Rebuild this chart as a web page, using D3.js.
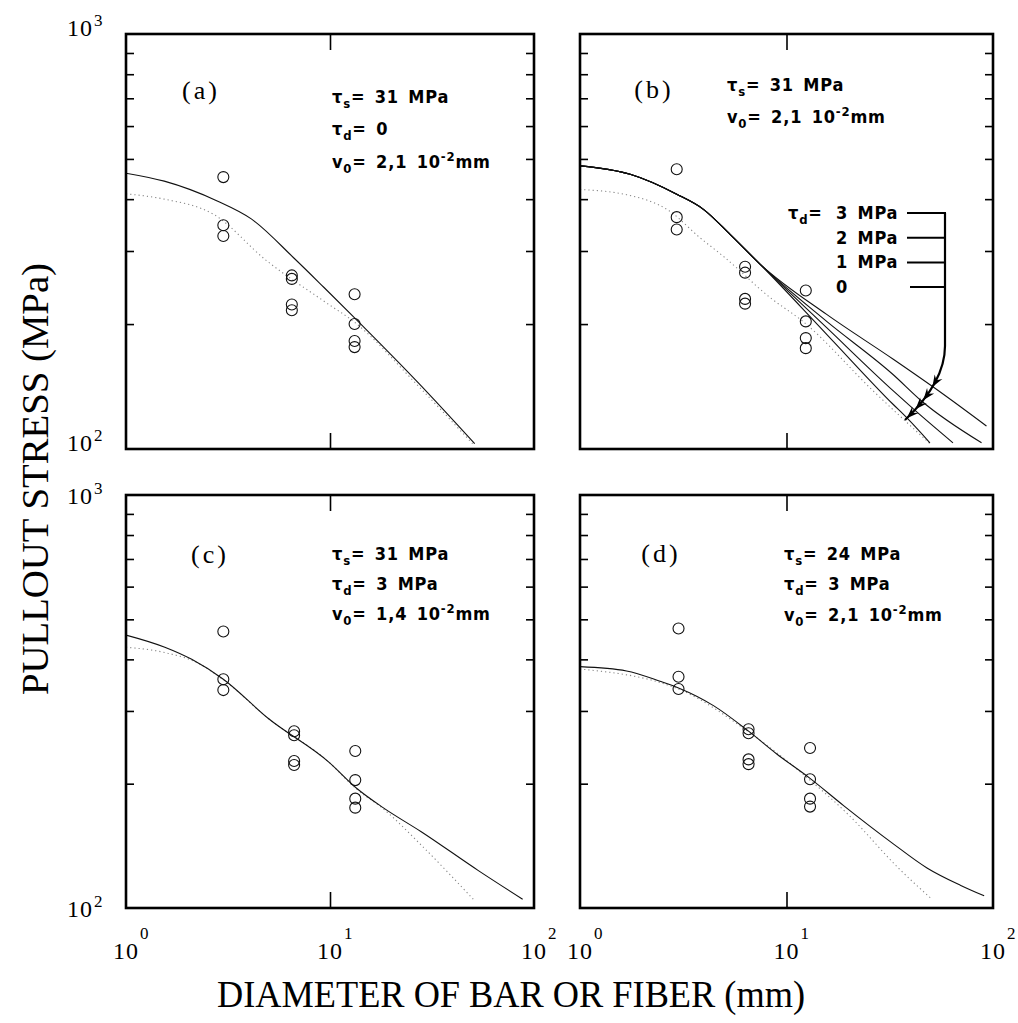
<!DOCTYPE html>
<html>
<head>
<meta charset="utf-8">
<script src="https://cdn.jsdelivr.net/npm/d3@7"></script>
<style>
  body { margin: 0; background: #fff; }
  svg { display: block; }
  .ann { font-family: "Liberation Sans Narrow", "DejaVu Sans Condensed", sans-serif; font-weight: bold; font-size: 18px; letter-spacing: 0.8px; word-spacing: 3px; }
  .tag { font-family: "Liberation Serif", serif; font-size: 26px; letter-spacing: 3px; }
  .num { font-family: "Liberation Serif", serif; font-size: 24px; letter-spacing: 1px; }
  .sup { font-family: "Liberation Serif", serif; font-size: 17px; }
  .title { font-family: "Liberation Serif", serif; font-size: 37px; }
</style>
</head>
<body>
<svg id="fig" width="1018" height="1023"></svg>
<script>
// ---- data: [diameter (mm), pullout stress (MPa)] ----
const yMinorTicks = [200, 300, 400, 500, 600, 700, 800, 900];
const xMajorTicks = [1, 10, 100];

// (a)
const pointsA = [[3,452],[3,346],[3,326],[6.5,262],[6.5,257],[6.5,223],[6.5,216],[13.2,236],[13.2,200],[13.2,182],[13.2,176]];
const solidA  = [[1,462],[1.54,442],[2.8,396],[4.13,358],[6.63,289],[9.35,245],[13.2,207],[27.4,143.5],[51.2,103]];
const dottedA = [[1,412],[1.54,400],[2.68,368],[4.9,284],[9.35,227],[13.2,202],[27.4,141],[50,103]];

// (b)
const pointsB = [[2.94,472],[2.94,362],[2.94,338],[6.3,275],[6.3,266],[6.3,230],[6.3,224],[12.4,241],[12.4,203],[12.4,185],[12.4,175]];
const commonB = [[1,481],[1.75,459],[2.94,411],[3.96,378],[5.33,329],[7.44,279]];
const tau3B = [[15.65,211],[32.9,164.5],[57.5,135.5],[93,113.6]];
const tau2B = [[15.65,203],[32.9,151],[45.1,130.5],[88,103.5]];
const tau1B = [[15.65,196],[32.9,138],[41.4,124.6],[64,103.5]];
const tau0B = [[15.65,189],[32.9,128],[38.2,119],[49.5,103.5]];
const dottedB = [[1,422],[1.68,410],[2.7,375],[3.81,323],[5,290],[8.3,232],[12,203],[26.3,138],[49.5,103]];
const legendB = ["3 MPa", "2 MPa", "1 MPa", "0"];

// (c)
const pointsC = [[3,467],[3,358],[3,337],[6.67,268],[6.67,262],[6.67,227],[6.67,222],[13.3,240],[13.3,204],[13.3,184],[13.3,175]];
const solidC  = [[1,458],[1.55,428],[2.1,400],[3,358],[4.97,288],[9.93,225],[13.5,195],[18.2,175],[28,153],[53.6,123],[88,105]];
const dottedC = [[1,428],[1.6,414],[2.2,394],[3,357],[4.97,288],[9.93,225],[13.5,194],[18.2,174],[28,142],[51.3,104]];

// (d)
const pointsD = [[3,475],[3,363],[3,339],[6.55,271],[6.55,265],[6.55,229],[6.55,223],[13,244],[13,205],[13,184],[13,176]];
const solidD  = [[1,384],[1.68,375],[2.44,354],[3,341],[4.43,309],[6.55,268],[8.97,236],[13,206],[18.9,177],[32.9,143],[47.9,125],[69.8,113.4],[90.6,107]];
const dottedD = [[1,379],[3,339],[6.55,267],[13,204],[20,168],[34.8,125],[50.6,105]];

const svg = d3.select('#fig');

function rich(g, x, y, parts, cls) {
    const t = g.append('text').attr('x', x).attr('y', y).attr('class', cls);
    let cur = 0;
    parts.forEach(([s, k]) => {
        const shift = k === 'sub' ? 5 : k === 'sup' ? -7 : 0;
        t.append('tspan')
            .attr('dy', shift - cur)
            .attr('font-size', k ? '13px' : null)
            .text(s);
        cur = shift;
    });
    return t;
}

function drawPanel(cfg) {
    const w = cfg.w, h = cfg.h;
    const g = svg.append('g').attr('transform', `translate(${cfg.x}, ${cfg.y})`);

    const xscale = d3.scaleLog().domain([1, 100]).range([0, w]);
    const yscale = d3.scaleLog().domain([100, 1000]).range([h, 0]);

    g.append('clipPath').attr('id', 'clip-' + cfg.id)
        .append('rect').attr('width', w).attr('height', h);

    // inward ticks on all four sides
    const tickGroups = [
        g.append('g').call(d3.axisLeft(yscale).tickValues(yMinorTicks).tickSize(-8).tickFormat('')),
        g.append('g').attr('transform', `translate(${w}, 0)`)
            .call(d3.axisRight(yscale).tickValues(yMinorTicks).tickSize(-8).tickFormat('')),
        g.append('g').attr('transform', `translate(0, ${h})`)
            .call(d3.axisBottom(xscale).tickValues([10]).tickSize(-16).tickFormat('')),
        g.append('g').call(d3.axisTop(xscale).tickValues([10]).tickSize(-16).tickFormat(''))
    ];
    tickGroups.forEach(a => {
        a.select('.domain').remove();
        a.selectAll('line').attr('stroke', '#000').attr('stroke-width', 1.6);
    });

    const plot = g.append('g').attr('clip-path', `url(#clip-${cfg.id})`);
    const line = d3.line()
        .x(d => xscale(d[0]))
        .y(d => yscale(d[1]))
        .curve(d3.curveMonotoneX);

    cfg.dotted.forEach(s => {
        plot.append('path').datum(s)
            .attr('d', line).attr('fill', 'none')
            .attr('stroke', '#888').attr('stroke-width', 1.1)
            .attr('stroke-dasharray', '1.2,3');
    });
    cfg.solid.forEach(s => {
        plot.append('path').datum(s)
            .attr('d', line).attr('fill', 'none')
            .attr('stroke', '#111').attr('stroke-width', 1.1);
    });

    plot.selectAll('.pt')
        .data(cfg.points)
        .join('circle')
        .attr('class', 'pt')
        .attr('cx', d => xscale(d[0]))
        .attr('cy', d => yscale(d[1]))
        .attr('r', 5.5)
        .attr('fill', 'none')
        .attr('stroke', '#111')
        .attr('stroke-width', 1.1);

    g.append('rect')
        .attr('width', w).attr('height', h)
        .attr('fill', 'none').attr('stroke', '#000').attr('stroke-width', 2.6);

    // tick labels 10^n
    if (cfg.yLabels) {
        [100, 1000].forEach(v => {
            const yy = yscale(v) + cfg.yLabelDy;
            g.append('text').attr('class', 'num').attr('x', -33).attr('y', yy)
                .attr('text-anchor', 'end').text('10');
            g.append('text').attr('class', 'sup').attr('x', -32).attr('y', yy - 10)
                .text(Math.round(Math.log10(v)));
        });
    }
    if (cfg.xLabels) {
        xMajorTicks.forEach(d => {
            const xx = xscale(d);
            g.append('text').attr('class', 'num').attr('x', xx).attr('y', h + 51)
                .attr('text-anchor', 'middle').text('10');
            g.append('text').attr('class', 'sup').attr('x', xx + 14).attr('y', h + 31)
                .text(Math.round(Math.log10(d)));
        });
    }

    g.append('text').attr('class', 'tag')
        .attr('x', cfg.tag[1]).attr('y', cfg.tag[2])
        .attr('text-anchor', 'middle').text(cfg.tag[0]);

    cfg.notes.forEach(n => rich(g, n.x, n.y, n.parts, 'ann'));

    return { g, xscale, yscale };
}

drawPanel({
    id: 'a', x: 126, y: 34, w: 408, h: 415,
    points: pointsA, solid: [solidA], dotted: [dottedA],
    yLabels: true, yLabelDy: 2, xLabels: false,
    tag: ['(a)', 75, 65],
    notes: [
        { x: 206, y: 69, parts: [['τ'], ['s', 'sub'], ['= 31 MPa']] },
        { x: 206, y: 101, parts: [['τ'], ['d', 'sub'], ['= 0']] },
        { x: 206, y: 134, parts: [['v'], ['0', 'sub'], ['= 2,1 10'], ['-2', 'sup'], ['mm']] }
    ]
});

const pb = drawPanel({
    id: 'b', x: 580, y: 34, w: 413, h: 415,
    points: pointsB,
    solid: [commonB.concat(tau3B), commonB.concat(tau2B), commonB.concat(tau1B), commonB.concat(tau0B)],
    dotted: [dottedB],
    yLabels: false, xLabels: false,
    tag: ['(b)', 74, 64],
    notes: [
        { x: 147, y: 57, parts: [['τ'], ['s', 'sub'], ['= 31 MPa']] },
        { x: 147, y: 89, parts: [['v'], ['0', 'sub'], ['= 2,1 10'], ['-2', 'sup'], ['mm']] },
        { x: 208, y: 185, parts: [['τ'], ['d', 'sub'], ['=']] }
    ]
});

// legend of panel (b): labels, leader lines and the curved bracket with arrows
legendB.forEach((lab, i) => {
    const yy = 185 + i * 24.7;
    pb.g.append('text').attr('class', 'ann').attr('x', 256).attr('y', yy).text(lab);
    pb.g.append('line')
        .attr('x1', i === 3 ? 330 : 327).attr('x2', 366)
        .attr('y1', yy - 6).attr('y2', yy - 6)
        .attr('stroke', '#000').attr('stroke-width', 2);
});
const bracket = pb.g.append('path')
    .attr('d', 'M365,179 V312 Q365,348 325,386')
    .attr('fill', 'none').attr('stroke', '#000').attr('stroke-width', 2.2);
const bnode = bracket.node();
const blen = bnode.getTotalLength();
// arrows where the bracket meets the four curves
[353, 366, 375, 384].forEach(ty => {
    let L = 0;
    while (L < blen && bnode.getPointAtLength(L).y < ty) L += 0.5;
    const p = bnode.getPointAtLength(L);
    const q = bnode.getPointAtLength(Math.max(0, L - 2));
    const ang = Math.atan2(p.y - q.y, p.x - q.x) * 180 / Math.PI;
    pb.g.append('path')
        .attr('d', 'M0,0 L-12,-4.5 L-8,0 L-12,4.5 Z')
        .attr('transform', `translate(${p.x},${p.y}) rotate(${ang})`)
        .attr('fill', '#000');
});

drawPanel({
    id: 'c', x: 126, y: 495, w: 408, h: 413,
    points: pointsC, solid: [solidC], dotted: [dottedC],
    yLabels: true, yLabelDy: 9, xLabels: true,
    tag: ['(c)', 84, 68],
    notes: [
        { x: 206, y: 65, parts: [['τ'], ['s', 'sub'], ['= 31 MPa']] },
        { x: 206, y: 95, parts: [['τ'], ['d', 'sub'], ['= 3 MPa']] },
        { x: 206, y: 125, parts: [['v'], ['0', 'sub'], ['= 1,4 10'], ['-2', 'sup'], ['mm']] }
    ]
});

drawPanel({
    id: 'd', x: 580, y: 495, w: 413, h: 413,
    points: pointsD, solid: [solidD], dotted: [dottedD],
    yLabels: false, xLabels: true,
    tag: ['(d)', 81, 67],
    notes: [
        { x: 204, y: 65, parts: [['τ'], ['s', 'sub'], ['= 24 MPa']] },
        { x: 204, y: 95, parts: [['τ'], ['d', 'sub'], ['= 3 MPa']] },
        { x: 204, y: 126, parts: [['v'], ['0', 'sub'], ['= 2,1 10'], ['-2', 'sup'], ['mm']] }
    ]
});

// axis titles
svg.append('text').attr('class', 'title')
    .attr('transform', 'translate(48, 479) rotate(-90)')
    .attr('text-anchor', 'middle')
    .attr('textLength', 432).attr('lengthAdjust', 'spacingAndGlyphs')
    .text('PULLOUT STRESS (MPa)');

svg.append('text').attr('class', 'title')
    .attr('x', 511).attr('y', 1007)
    .attr('text-anchor', 'middle')
    .attr('textLength', 588).attr('lengthAdjust', 'spacingAndGlyphs')
    .text('DIAMETER OF BAR OR FIBER (mm)');
</script>
</body>
</html>
